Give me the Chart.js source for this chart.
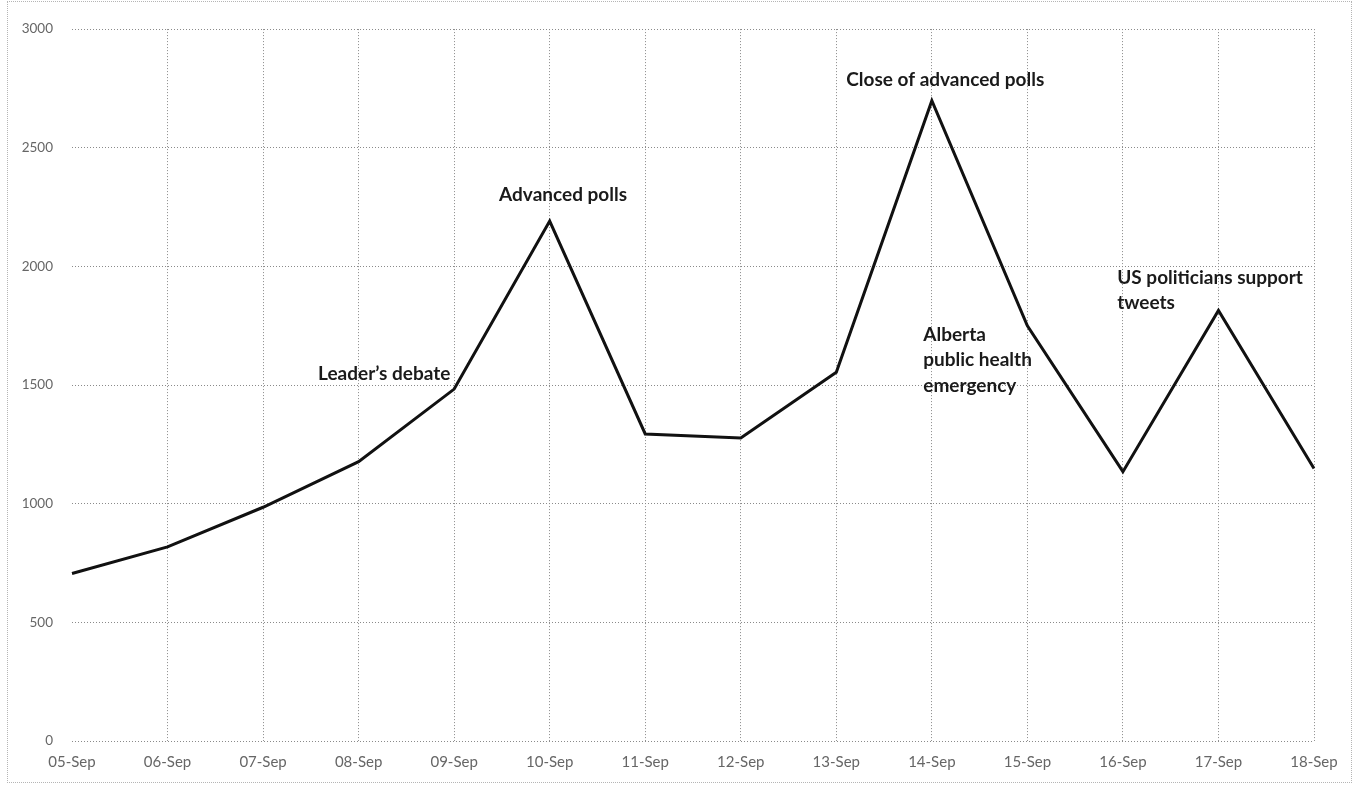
<!DOCTYPE html>
<html>
<head>
<meta charset="utf-8">
<script src="https://cdn.jsdelivr.net/npm/chart.js@4"></script>
<style>
  body { margin: 0; background: #fff; }
  #frame {
    position: absolute;
    left: 7px;
    top: 1px;
    width: 1345px;
    height: 782px;
    border: 1px dotted #b5b5b5;
    box-sizing: border-box;
  }
  #wrap {
    position: absolute;
    left: 8px;
    top: 2px;
    width: 1345px;
    height: 781px;
  }
</style>
</head>
<body>
<div id="frame"></div>
<div id="wrap"><canvas id="chart"></canvas></div>
<script>
const days = [
  "05-Sep", "06-Sep", "07-Sep", "08-Sep", "09-Sep", "10-Sep", "11-Sep",
  "12-Sep", "13-Sep", "14-Sep", "15-Sep", "16-Sep", "17-Sep", "18-Sep",
];
const tweets = [
  706, 818, 985, 1177, 1483, 2191, 1294, 1277, 1554, 2698, 1750, 1135, 1814, 1148,
];
const yTicks = [0, 500, 1000, 1500, 2000, 2500, 3000];

// event labels, anchored in data space (category index, value)
const notes = [
  { lines: ["Leader\u2019s debate"], at: 3.96, value: 1546, align: "right" },
  { lines: ["Advanced polls"], at: 5.14, value: 2300, align: "center" },
  { lines: ["Close of advanced polls"], at: 9.14, value: 2786, align: "center" },
  { lines: ["Alberta", "public health", "emergency"], at: 8.91, value: 1713, align: "left" },
  { lines: ["US politicians support", "tweets"], at: 10.94, value: 1952, align: "left" },
];

const notePlugin = {
  id: "notes",
  afterDatasetsDraw(chart) {
    const ctx = chart.ctx;
    const xs = chart.scales.x;
    const ys = chart.scales.y;
    ctx.save();
    ctx.font = "bold 19px Lato, 'Open Sans', sans-serif";
    ctx.fillStyle = "#1a1a1a";
    ctx.textBaseline = "middle";
    notes.forEach((n) => {
      const x = xs.getPixelForValue(n.at);
      const y = ys.getPixelForValue(n.value);
      ctx.textAlign = n.align;
      n.lines.forEach((line, i) => {
        ctx.fillText(line, x, y + i * 25.5);
      });
    });
    ctx.restore();
  },
};

const grid = document.querySelector("#chart").getContext("2d");

new Chart(grid, {
  type: "line",
  data: {
    labels: days,
    datasets: [
      {
        label: "Tweets",
        data: tweets,
        borderColor: "#111",
        borderWidth: 3,
        pointRadius: 0,
        tension: 0,
        fill: false,
      },
    ],
  },
  options: {
    responsive: true,
    maintainAspectRatio: false,
    animation: false,
    layout: { padding: { top: 23, right: 39, left: 0, bottom: 0 } },
    plugins: {
      legend: { display: false },
      tooltip: { enabled: false },
    },
    scales: {
      x: {
        offset: false,
        border: { display: false, dash: [1, 2] },
        grid: {
          drawTicks: false,
          color: (c) => (c.index === 0 ? "rgba(0,0,0,0)" : "#8a8a8a"),
          lineWidth: 1,
        },
        ticks: {
          color: "#666",
          font: { family: "Lato, sans-serif", size: 15 },
          padding: 12,
          maxRotation: 0,
          autoSkip: false,
        },
        afterFit: (s) => { s.height = 42; },
      },
      y: {
        min: 0,
        max: 3000,
        border: { display: false, dash: [1, 2] },
        grid: {
          drawTicks: false,
          color: "#8a8a8a",
          lineWidth: 1,
        },
        afterBuildTicks: (s) => { s.ticks = yTicks.map((v) => ({ value: v })); },
        ticks: {
          color: "#666",
          font: { family: "Lato, sans-serif", size: 13.5 },
          padding: 19,
          callback: (v) => String(v),
        },
        afterFit: (s) => { s.width = 64; },
      },
    },
  },
  plugins: [notePlugin],
});
</script>
</body>
</html>
